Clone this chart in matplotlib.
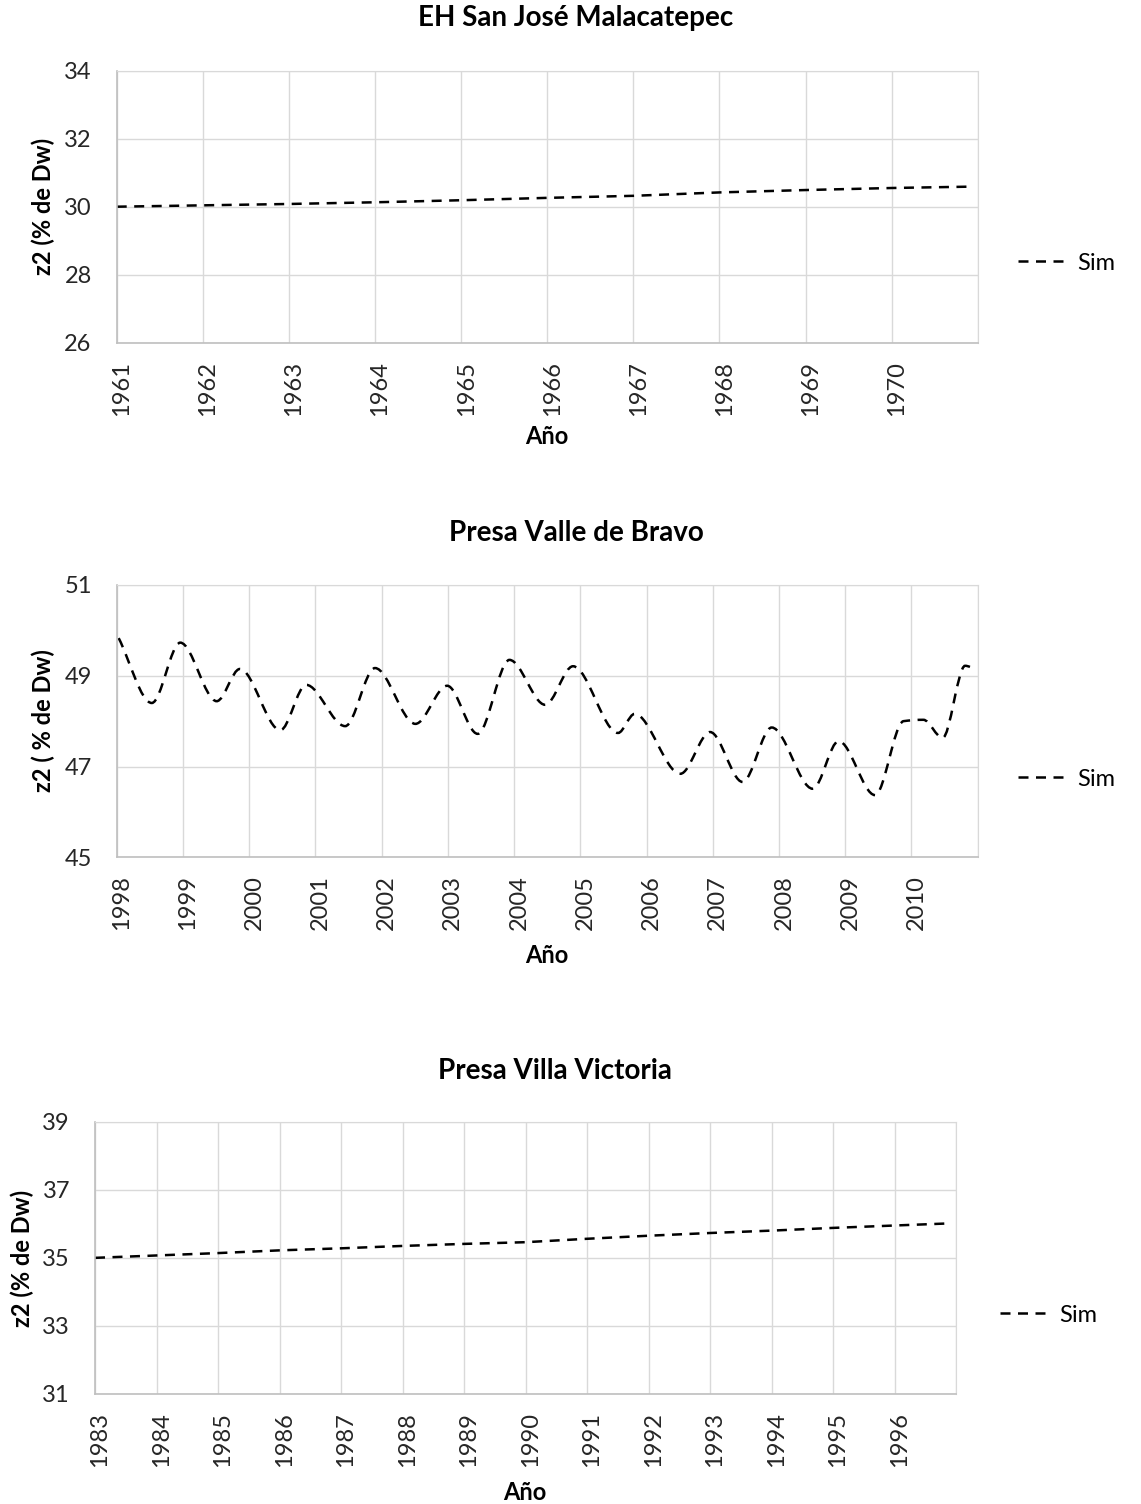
import numpy as np
import matplotlib
matplotlib.use('Agg')
import matplotlib.pyplot as plt
import matplotlib.transforms as mtransforms
from matplotlib.path import Path
from matplotlib.patches import PathPatch
from matplotlib.lines import Line2D

plt.rcParams['font.family'] = ['Lato', 'DejaVu Sans']

# --- datos ---
# EH San José Malacatepec
anios_sjm = [1961.0, 1962.0, 1963.0, 1964.0, 1965.0, 1966.0, 1967.0, 1968.0, 1969.0, 1970.0, 1970.92]
z2_sjm = [30.00, 30.04, 30.08, 30.13, 30.19, 30.26, 30.32, 30.42, 30.49, 30.55, 30.59]

# Presa Valle de Bravo (picos, valles y quiebres de la curva)
anios_vb = [1998.03, 1998.53, 1998.96, 1999.51, 1999.86, 2000.47, 2000.86, 2001.45, 2001.90,
            2002.51, 2002.99, 2003.45, 2003.93, 2004.47, 2004.89, 2005.57, 2005.82, 2006.51,
            2006.96, 2007.45, 2007.89, 2008.51, 2008.90, 2009.45, 2009.88, 2010.18, 2010.47,
            2010.81, 2010.96]
z2_vb = [49.83, 48.40, 49.73, 48.44, 49.15, 47.80, 48.80, 47.89, 49.17,
         47.94, 48.78, 47.72, 49.35, 48.36, 49.21, 47.74, 48.16, 46.84,
         47.76, 46.66, 47.86, 46.51, 47.56, 46.37, 48.00, 48.03, 47.63,
         49.22, 49.15]

# Presa Villa Victoria
anios_vv = [1983.0, 1984.0, 1985.0, 1986.0, 1987.0, 1988.0, 1989.0, 1990.0, 1991.0, 1992.0,
            1993.0, 1994.0, 1995.0, 1996.0, 1996.86]
z2_vv = [35.00, 35.07, 35.14, 35.22, 35.28, 35.35, 35.41, 35.46, 35.56, 35.65,
         35.73, 35.80, 35.88, 35.95, 36.01]

ESTILO = (0, (4, 3))
GRIS = '#d9d9d9'
TAM = 17


def curva_suave(ax, x, y, **kw):
    """Línea suavizada tipo Excel: tramos Bezier con pendientes monótonas."""
    x = np.asarray(x, float)
    y = np.asarray(y, float)
    h = np.diff(x)
    d = np.diff(y) / h
    m = np.zeros_like(x)
    m[0], m[-1] = d[0], d[-1]
    for k in range(1, len(x) - 1):
        if d[k - 1] * d[k] > 0:
            w1 = 2 * h[k] + h[k - 1]
            w2 = h[k] + 2 * h[k - 1]
            m[k] = (w1 + w2) / (w1 / d[k - 1] + w2 / d[k])
    verts = [(x[0], y[0])]
    codes = [Path.MOVETO]
    for k in range(len(x) - 1):
        verts += [(x[k] + h[k] / 3, y[k] + m[k] * h[k] / 3),
                  (x[k + 1] - h[k] / 3, y[k + 1] - m[k + 1] * h[k] / 3),
                  (x[k + 1], y[k + 1])]
        codes += [Path.CURVE4] * 3
    ax.add_patch(PathPatch(Path(verts, codes), fill=False, **kw))


def formato(fig, ax, x0, x1, y0, y1, paso):
    ax.set_xlim(x0, x1)
    ax.set_ylim(y0, y1)
    ax.set_xticks(range(x0, x1))
    ax.set_xticklabels([str(a) for a in range(x0, x1)], rotation=90)
    ax.set_yticks(np.arange(y0, y1 + 0.1, paso))
    ax.set_xticks([x1], minor=True)
    ax.grid(True, which='both', color=GRIS, lw=1.0)
    ax.set_axisbelow(True)
    ax.tick_params(axis='both', which='both', length=0, labelsize=TAM, colors='#262626')
    ax.tick_params(axis='x', pad=13)
    ax.tick_params(axis='y', pad=18)
    desplaza = mtransforms.ScaledTranslation(5 / 100, 0, fig.dpi_scale_trans)
    for lab in ax.get_xticklabels():
        lab.set_transform(lab.get_transform() + desplaza)
    for s in ['top', 'right']:
        ax.spines[s].set_color(GRIS)
    for s in ['left', 'bottom']:
        ax.spines[s].set_color('#bfbfbf')
        ax.spines[s].set_linewidth(1.2)


def leyenda(ax, fig, x, y):
    h = Line2D([], [], color='black', lw=1.8, ls=ESTILO)
    ax.legend([h], ['Sim'], loc='center left', bbox_to_anchor=(x, y), bbox_transform=fig.transFigure,
              frameon=False, fontsize=TAM, handlelength=2.0, handletextpad=0.5, borderpad=0,
              borderaxespad=0)


W, H = 1141, 1504
fig = plt.figure(figsize=(W / 100, H / 100), dpi=100)

# --- grafica 1 ---
ax1 = fig.add_axes([116.7 / W, 1 - 342.7 / H, 861 / W, 272 / H])
ax1.plot(anios_sjm, z2_sjm, color='black', lw=1.8, ls=ESTILO)
formato(fig, ax1, 1961, 1971, 26, 34, 2)
leyenda(ax1, fig, 1018 / W, 1 - 263 / H)
fig.text(576 / W, 1 - 18 / H, 'EH San José Malacatepec', ha='center', va='center', fontsize=20, fontweight='bold')
fig.text(547 / W, 1 - 436 / H, 'Año', ha='center', va='center', fontsize=TAM, fontweight='bold')
fig.text(43 / W, 1 - 206 / H, 'z2 (% de Dw)', ha='center', va='center', rotation=90, fontsize=TAM,
         fontweight='bold')

# --- grafica 2 ---
ax2 = fig.add_axes([116.7 / W, 1 - 857.3 / H, 861 / W, 272.3 / H])
curva_suave(ax2, anios_vb, z2_vb, edgecolor='black', lw=1.8, ls=ESTILO)
formato(fig, ax2, 1998, 2011, 45, 51, 2)
leyenda(ax2, fig, 1018 / W, 1 - 779 / H)
fig.text(576 / W, 1 - 533 / H, 'Presa Valle de Bravo', ha='center', va='center', fontsize=20, fontweight='bold')
fig.text(547 / W, 1 - 956 / H, 'Año', ha='center', va='center', fontsize=TAM, fontweight='bold')
fig.text(43 / W, 1 - 721 / H, 'z2 ( % de Dw)', ha='center', va='center', rotation=90, fontsize=TAM,
         fontweight='bold')

# --- grafica 3 ---
ax3 = fig.add_axes([95 / W, 1 - 1394 / H, 861 / W, 272.3 / H])
ax3.plot(anios_vv, z2_vv, color='black', lw=1.8, ls=ESTILO)
formato(fig, ax3, 1983, 1997, 31, 39, 2)
leyenda(ax3, fig, 1000 / W, 1 - 1315 / H)
fig.text(555 / W, 1 - 1071 / H, 'Presa Villa Victoria', ha='center', va='center', fontsize=20, fontweight='bold')
fig.text(525 / W, 1 - 1492 / H, 'Año', ha='center', va='center', fontsize=TAM, fontweight='bold')
fig.text(22 / W, 1 - 1258 / H, 'z2 (% de Dw)', ha='center', va='center', rotation=90, fontsize=TAM,
         fontweight='bold')

fig.savefig('out.png', dpi=100, facecolor='white')
